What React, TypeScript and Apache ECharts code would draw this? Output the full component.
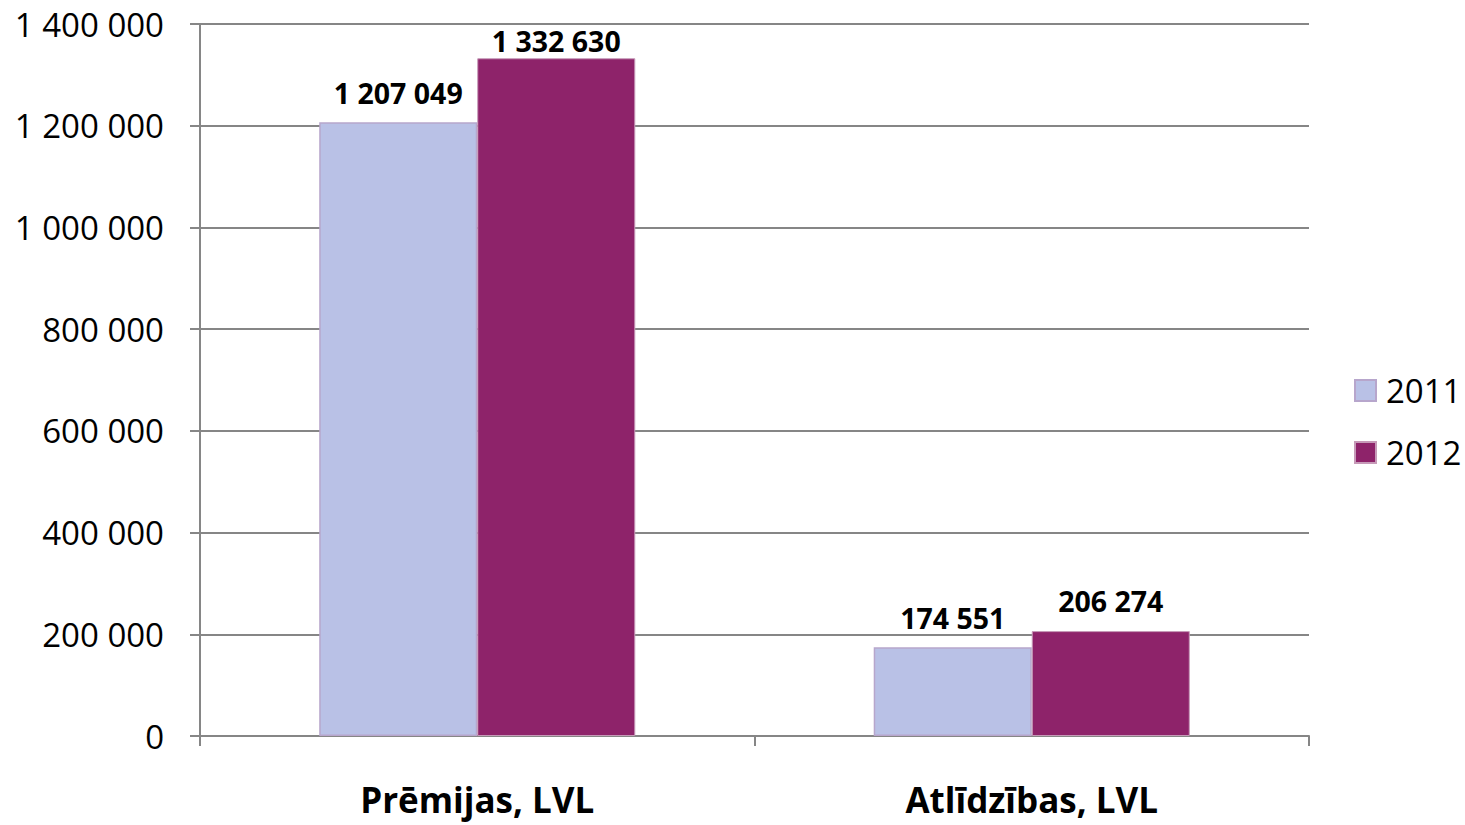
import React, { useEffect, useRef } from "react";
import * as echarts from "echarts";

const categories = ["Prēmijas, LVL", "Atlīdzības, LVL"];
const seriesNames = ["2011", "2012"];
const values2011 = [1207049, 174551];
const values2012 = [1332630, 206274];
const yTicks = [0, 200000, 400000, 600000, 800000, 1000000, 1200000, 1400000];

const fmt = (v: number) => String(Math.round(v)).replace(/\B(?=(\d{3})+(?!\d))/g, " ");

const FONT = "Open Sans";

export default function App() {
  const ref = useRef<HTMLDivElement>(null);
  useEffect(() => {
    if (!ref.current) return;
    const chart = echarts.init(ref.current, undefined, { renderer: "svg" });
    const labelStyle = (distance: number) => ({
      show: true,
      position: "top" as const,
      distance,
      fontFamily: FONT,
      fontWeight: "bold" as const,
      fontSize: 28.5,
      color: "#000",
      formatter: (p: any) => fmt(p.value),
    });
    chart.setOption({
      animation: false,
      backgroundColor: "#fff",
      grid: { left: 200, right: 156, top: 24, bottom: 89, containLabel: false },
      legend: {
        orient: "vertical",
        left: 1354,
        top: 374,
        padding: 0,
        itemWidth: 21,
        itemHeight: 21,
        itemGap: 29,
        icon: "rect",
        textStyle: { fontFamily: FONT, fontSize: 33, color: "#000", padding: [0, 0, 0, 5] },
        data: seriesNames,
      },
      xAxis: {
        type: "category",
        data: categories,
        axisLine: { show: true, lineStyle: { color: "#868686", width: 2 } },
        axisTick: { show: true, length: 10, alignWithLabel: false, lineStyle: { color: "#868686", width: 2 } },
        axisLabel: {
          fontFamily: FONT,
          fontWeight: "bold",
          fontSize: 35,
          color: "#000",
          margin: 46,
        },
      },
      yAxis: {
        type: "value",
        min: yTicks[0],
        max: yTicks[yTicks.length - 1],
        interval: yTicks[1] - yTicks[0],
        axisLine: { show: true, lineStyle: { color: "#868686", width: 2 } },
        axisTick: { show: true, length: 10, lineStyle: { color: "#868686", width: 2 } },
        splitLine: { show: true, lineStyle: { color: "#868686", width: 2 } },
        axisLabel: {
          fontFamily: FONT,
          fontSize: 33,
          color: "#000",
          margin: 36,
          formatter: (v: number) => fmt(v),
        },
      },
      series: [
        {
          name: seriesNames[0],
          type: "bar",
          data: values2011,
          barGap: "0%",
          barCategoryGap: "43%",
          itemStyle: { color: "#B9C1E6", borderColor: "#B7A6CC", borderWidth: 1.5 },
          label: labelStyle(15),
        },
        {
          name: seriesNames[1],
          type: "bar",
          data: [
            { value: values2012[0], label: { distance: 3 } },
            { value: values2012[1] },
          ],
          barGap: "0%",
          barCategoryGap: "43%",
          itemStyle: { color: "#8E236A", borderColor: "#C69AB8", borderWidth: 1 },
          label: labelStyle(16),
        },
      ],
    });
    return () => chart.dispose();
  }, []);
  return <div ref={ref} style={{ width: 1465, height: 825, position: "absolute", left: 0, top: 0 }} />;
}
